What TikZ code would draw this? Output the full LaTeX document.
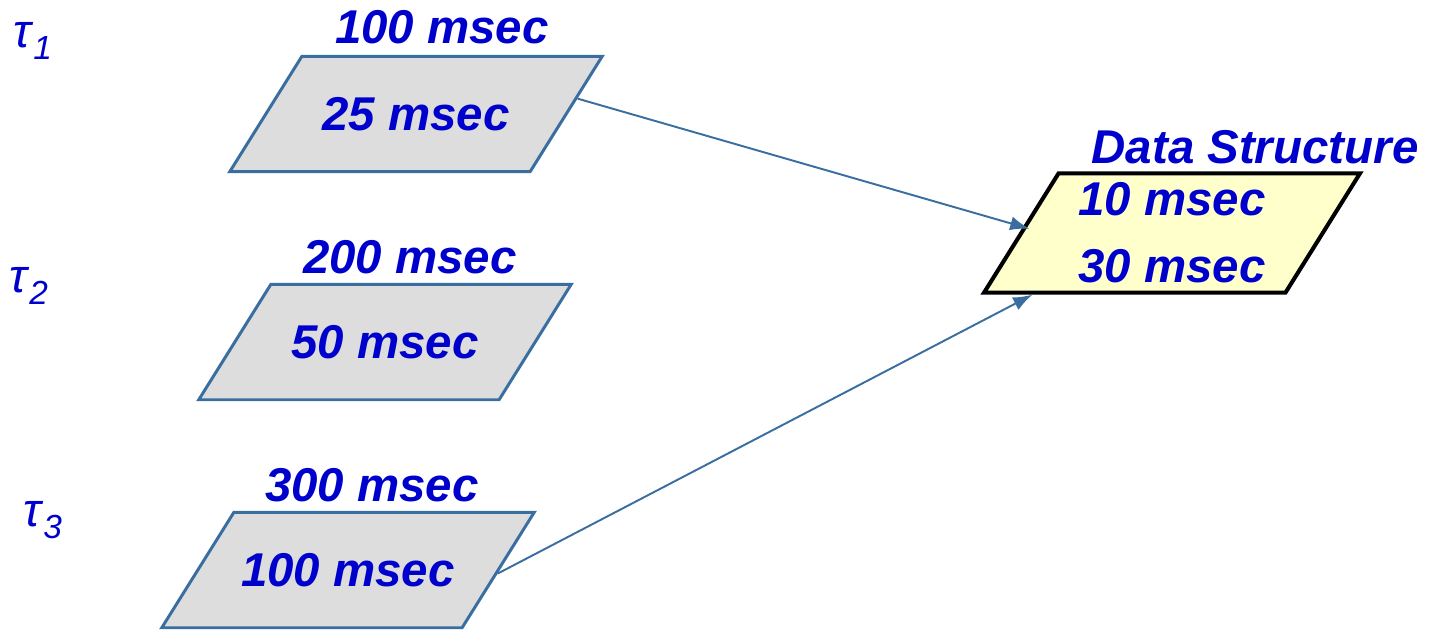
\documentclass[tikz,border=0pt]{standalone}
\usepackage{fontspec}
\setmainfont{Liberation Sans}
\usetikzlibrary{shapes.geometric,arrows.meta,calc}
\definecolor{msblue}{RGB}{0,0,204}
\definecolor{edgeblue}{RGB}{58,110,160}
\definecolor{boxgrey}{RGB}{221,221,221}
\definecolor{dsyellow}{RGB}{255,255,204}
\newcommand\msfont{\fontsize{27}{38}\selectfont\bfseries\itshape}
\newcommand\taufont{\fontsize{27}{27}\selectfont\itshape}
\newcommand\tasksub[1]{τ\kern1pt\raisebox{-7pt}{\fontsize{19}{19}\selectfont #1}}
\tikzset{
  slantbox/.style={trapezium, trapezium left angle=58, trapezium right angle=122,
    trapezium stretches body=true, inner xsep=0pt, font=\msfont, text=msblue},
  taskbox/.style={slantbox, minimum width=212pt, inner ysep=23.3pt,
    draw=edgeblue, line width=1.7pt, fill=boxgrey},
  dsbox/.style={slantbox, minimum width=214pt, inner ysep=5.4pt,
    draw=black, line width=2.3pt, fill=dsyellow, align=center},
  msnote/.style={font=\msfont, text=msblue, inner sep=0pt},
  taunote/.style={font=\taufont, text=msblue, inner sep=0pt},
  flow/.style={draw=edgeblue, line width=1.1pt, -{Latex[length=11pt,width=8pt]}}
}
\begin{document}
\begin{tikzpicture}[x=0.02cm,y=-0.02cm]
\useasboundingbox (0,0) rectangle (1429,630);

% tasks
\node[taunote] (tau1) at (33,41) {\tasksub{1}};
\node[taunote] (tau2) at (29,286) {\tasksub{2}};
\node[taunote] (tau3) at (43,520) {\tasksub{3}};

\node[taskbox] (p1) at (416,114) {25 msec};
\node[taskbox] (p2) at (385,342) {50 msec};
\node[taskbox] (p3) at (348,570) {100 msec};

\node[msnote] (per1) at (442,27) {100 msec};
\node[msnote] (per2) at (410,257) {200 msec};
\node[msnote] (per3) at (372,485) {300 msec};

% shared data
\node[dsbox] (ds) at (1172,233) {10 msec\\30 msec};
\node[msnote] (dsname) at (1255,147) {Data Structure};

\draw[flow, shorten >=-4pt] ($(p1.top right corner)!0.37!(p1.bottom right corner)$)
  -- ($(ds.top left corner)!0.45!(ds.bottom left corner)$);
\draw[flow] ($(p3.top right corner)!0.53!(p3.bottom right corner)$)
  -- ($(ds.bottom left corner)!0.17!(ds.bottom right corner)$);
\end{tikzpicture}
\end{document}
